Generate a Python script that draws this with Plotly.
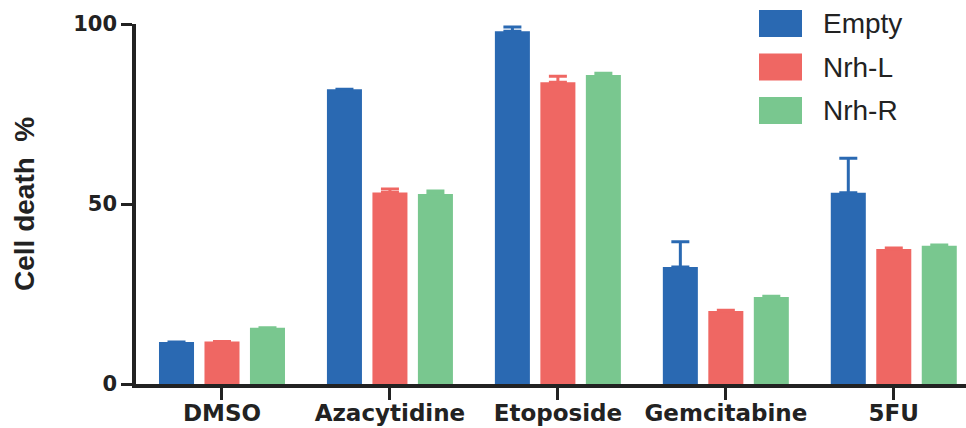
import plotly.graph_objects as go

categories = ["DMSO", "Azacytidine", "Etoposide", "Gemcitabine", "5FU"]
series_names = ["Empty", "Nrh-L", "Nrh-R"]
empty_vals = [11.7, 81.9, 98.0, 32.5, 53.1]
nrhl_vals = [11.8, 53.2, 83.8, 20.3, 37.5]
nrhr_vals = [15.6, 52.8, 85.8, 24.2, 38.4]
empty_err = [None, None, 1.2, 7.0, 9.6]
nrhl_err = [None, 1.0, 1.7, 0.2, 0.3]
nrhr_err = [None, 0.8, 0.5, 0.2, 0.2]
colors = ["#2A69B2", "#EF6763", "#79C78F"]
y_ticks = [0, 50, 100]

W, H = 966, 428
L, R, T, B = 136, 0, 24, 44
PW, PH = W - L - R, H - T - B

fig = go.Figure()
for name, vals, errs, col in zip(series_names, [empty_vals, nrhl_vals, nrhr_vals],
                                 [empty_err, nrhl_err, nrhr_err], colors):
    fig.add_trace(go.Bar(
        x=categories, y=vals, name=name, marker=dict(color=col, line=dict(width=0)),
        error_y=dict(type="data", array=errs,
                     arrayminus=[0 if e is not None else None for e in errs], symmetric=False,
                     color=col, thickness=3, width=9),
        showlegend=False,
    ))

# legend drawn as shapes + text
shapes = []
annotations = []
row_centers = [23.5, 67, 110.5]
for name, col, cy in zip(series_names, colors, row_centers):
    x0 = (759 - L) / PW
    x1 = (802 - L) / PW
    y0 = (H - B - (cy + 13.5)) / PH
    y1 = (H - B - (cy - 13.5)) / PH
    shapes.append(dict(type="rect", xref="paper", yref="paper", x0=x0, x1=x1, y0=y0, y1=y1,
                       fillcolor=col, line=dict(width=0)))
    annotations.append(dict(xref="paper", yref="paper", x=(821 - L) / PW, y=(H - B - cy) / PH,
                            text=name, showarrow=False, xanchor="left", yanchor="middle",
                            font=dict(family="Liberation Sans, Arial", size=28, color="#222222")))

annotations.append(dict(xref="paper", yref="paper", x=0, y=0.5, xshift=-112,
                        text="<b>Cell death  %</b>", textangle=-90, showarrow=False,
                        xanchor="center", yanchor="middle",
                        font=dict(family="Liberation Sans, Arial", size=28, color="#222222")))

fig.update_layout(
    width=W, height=H,
    margin=dict(l=L, r=R, t=T, b=B, autoexpand=False),
    paper_bgcolor="white", plot_bgcolor="white",
    barmode="group", bargap=0.1875, bargroupgap=0.23,
    shapes=shapes, annotations=annotations,
    xaxis=dict(range=[-0.512, 4.43], showline=True, linecolor="#222222", linewidth=3.5,
               ticks="outside", ticklen=12, tickwidth=3, tickcolor="#222222",
               ticklabelstandoff=-6,
               tickfont=dict(family="DejaVu Sans", size=23, color="#222222", weight="bold"),
               showgrid=False, zeroline=False, fixedrange=True, automargin=False),
    yaxis=dict(range=[0, 100], tickvals=y_ticks, showline=True, linecolor="#222222", linewidth=3.5,
               ticks="outside", ticklen=11, tickwidth=3, tickcolor="#222222",
               tickfont=dict(family="DejaVu Sans", size=21, color="#222222", weight="bold"),
               showgrid=False, zeroline=False, automargin=False, fixedrange=True),
)

fig.write_html("out.html", config={"displayModeBar": False},
               post_script="document.body.style.margin='0';document.body.style.padding='0';")
